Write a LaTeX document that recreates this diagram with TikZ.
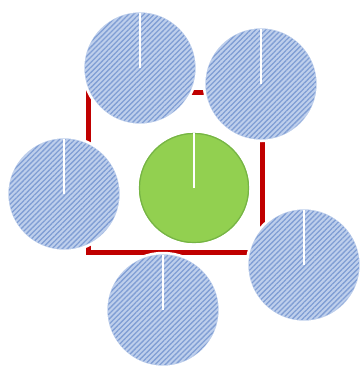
\documentclass[tikz,border=0pt]{standalone}
\usepackage{tikz}
\usetikzlibrary{patterns.meta}
\usepackage{xcolor}
\definecolor{frameRed}{RGB}{192,0,0}
\definecolor{discBlue}{RGB}{190,207,236}
\definecolor{stripeBlue}{RGB}{128,158,212}
\definecolor{coreGreen}{RGB}{146,208,80}
\definecolor{coreEdge}{RGB}{118,180,70}
\tikzset{
  ring/.style={circle,minimum size=114pt,inner sep=0pt,fill=discBlue,
    draw=white,line width=2.5pt},
  hatch/.style={circle,minimum size=110pt,inner sep=0pt,
    pattern={Lines[angle=45,distance=3.6pt,line width=1.3pt]},pattern color=stripeBlue},
  core/.style={circle,minimum size=113pt,inner sep=0pt,fill=coreGreen,
    draw=white,line width=2.5pt},
  spoke/.style={draw=white,line width=2.6pt}
}
\begin{document}
\begin{tikzpicture}[x=1pt,y=-1pt]
\useasboundingbox (0,0) rectangle (359,367);
% red frame
\draw[frameRed,line width=5pt] (88,92) rectangle (262,252);
% outer discs
\foreach \name/\px/\py in {topL/140/68, topR/261/84, midL/64/194, botM/163/310, botR/304/265}{
  \node[ring] (\name) at (\px,\py) {};
  \node[hatch] at (\name) {};
  \draw[spoke] (\name.center) -- ([yshift=-3pt]\name.north);
}
% centre disc
\node[core] (mid) at (194,188) {};
\draw[coreEdge,line width=1.2pt] (mid) circle (54.5pt);
\draw[spoke] (mid.center) -- ([yshift=-3pt]mid.north);
\end{tikzpicture}
\end{document}
